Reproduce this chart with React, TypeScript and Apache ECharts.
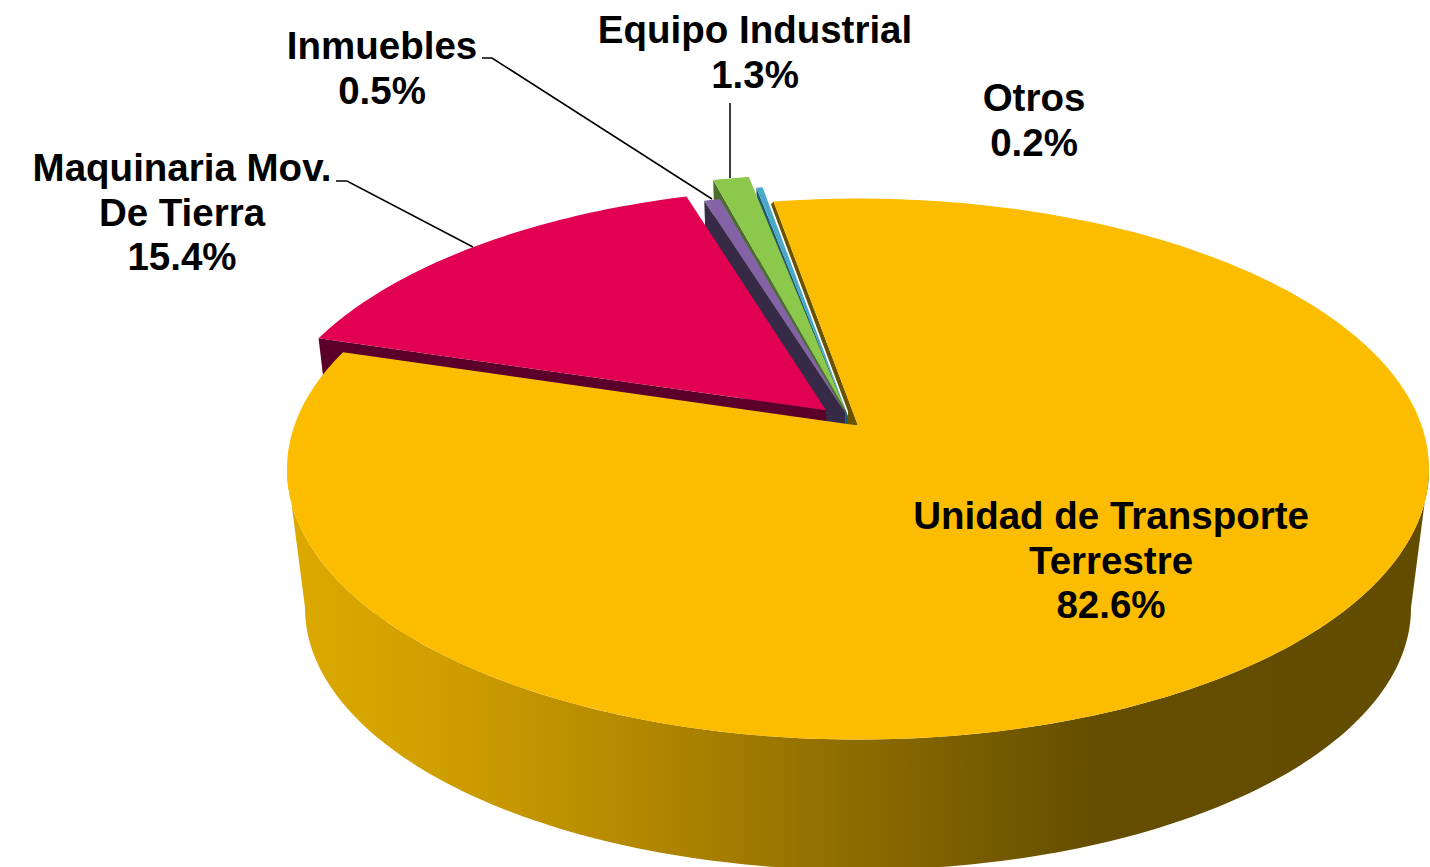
import React, { useEffect, useRef } from "react";
import * as echarts from "echarts";

const names = ["Unidad de Transporte\nTerrestre", "Maquinaria Mov.\nDe Tierra", "Inmuebles", "Equipo Industrial", "Otros"];
const values = [82.6, 15.4, 0.5, 1.3, 0.2];

const topColors = ["#FCBD00", "#E20052", "#8363A5", "#8CC84B", "#4BA9C8"];
const wallColors = ["#695300", "#5A002A", "#362A47", "#4D6E2A", "#1F5A70"];
const apexOffsets = [[0, 0], [-0.0573, -0.059], [-0.0233, -0.0515], [-0.0224, -0.059], [-0.01785, -0.0364]];
const radii = [1, 0.997, 0.982, 1.074, 1.038];
const angleNudge = [[0, -0.4], [-0.4, -0.1], [-0.15, 0], [0.3, -0.34], [0, 0]];
const labelAnchors = [
  [1111, 560],
  [182, 212],
  [382, 68],
  [755, 52],
  [1034, 120],
];
const leaderLines = [
  [[336, 181], [347, 181], [473, 247]],
  [[482, 58], [492, 58], [712, 199]],
  [[730, 103], [730, 178]],
];

const START_ANGLE = -10;
const K = 0.1607;
const TOP = { ax: 858, ay: 425.6, A: 563.6, B: 263.5 };
const BOTTOM = { ax: 858, ay: 565.9, A: 545.8, B: 255.2 };
const RAD = Math.PI / 180;

type Plane = typeof TOP;
function project(p: Plane, u: number, v: number): number[] {
  const w = 1 - K * v;
  return [p.ax + (p.A * u) / w, p.ay + (p.B * v) / w];
}

const total = values.reduce((s, v) => s + v, 0);
const slices = values.map((v, i) => {
  const before = values.slice(0, i).reduce((s, x) => s + x, 0);
  const a0 = START_ANGLE + (before / total) * 360;
  const a1 = a0 + (v / total) * 360;
  return {
    a0: a0 + angleNudge[i][0],
    a1: a1 + angleNudge[i][1],
    ou: apexOffsets[i][0],
    ov: apexOffsets[i][1],
    r: radii[i],
  };
});

function rim(p: Plane, i: number, deg: number) {
  const s = slices[i];
  return project(p, s.ou + s.r * Math.sin(deg * RAD), s.ov - s.r * Math.cos(deg * RAD));
}
function apex(p: Plane, i: number) {
  return project(p, slices[i].ou, slices[i].ov);
}
function arc(p: Plane, i: number, from: number, to: number) {
  const n = Math.max(2, Math.ceil(Math.abs(to - from)));
  const out: number[][] = [];
  for (let j = 0; j <= n; j++) out.push(rim(p, i, from + ((to - from) * j) / n));
  return out;
}

const wallGradient = {
  type: "linear",
  global: true,
  x: 290,
  y: 0,
  x2: 1430,
  y2: 0,
  colorStops: [
    { offset: 0, color: "#DCA900" },
    { offset: 0.1, color: "#D4A200" },
    { offset: 0.3, color: "#B48900" },
    { offset: 0.5, color: "#8C6C00" },
    { offset: 0.7, color: "#654E00" },
    { offset: 1, color: "#624C00" },
  ],
};

const LEFT_SIL = 260.8;
const RIGHT_SIL = 99.2;

function renderSlice(params: any) {
  const i = values.length - 1 - params.dataIndex;
  const s = slices[i];
  const children: any[] = [];
  if (i === 0) {
    const bottom = arc(BOTTOM, 0, RIGHT_SIL, LEFT_SIL).reverse();
    children.push({
      type: "polygon",
      shape: { points: [...arc(TOP, 0, RIGHT_SIL, LEFT_SIL), ...bottom] },
      style: { fill: wallGradient },
    });
  } else {
    const t = rim(TOP, i, s.a0);
    const c = apex(TOP, i);
    children.push({
      type: "polygon",
      shape: { points: [t, c, apex(BOTTOM, i), rim(BOTTOM, i, s.a0)] },
      style: { fill: wallColors[i] },
    });
  }
  children.push({
    type: "polygon",
    shape: { points: [apex(TOP, i), ...arc(TOP, i, s.a0, s.a1)] },
    style: { fill: topColors[i] },
  });
  return { type: "group", children };
}

function renderInnerFace() {
  const tip = rim(TOP, 0, slices[0].a0);
  const c = apex(TOP, 0);
  return {
    type: "polygon",
    shape: {
      points: [tip, [tip[0] - 2.5, tip[1] + 3], [c[0] - 10, c[1] - 14], [c[0] - 10, c[1]], c],
    },
    style: { fill: wallColors[0] },
  };
}

const labelFont = { fontFamily: "Liberation Sans", fontWeight: "bold", fontSize: 38.5, lineHeight: 44.5, fill: "#000" };

export default function App() {
  const ref = useRef<HTMLDivElement>(null);
  useEffect(() => {
    const chart = echarts.init(ref.current!, null, { renderer: "svg" });
    chart.setOption({
      animation: false,
      backgroundColor: "#fff",
      series: [
        {
          type: "custom",
          coordinateSystem: "none",
          silent: true,
          z: 1,
          renderItem: renderInnerFace,
          data: [[values[0]]],
        },
        {
          type: "custom",
          coordinateSystem: "none",
          silent: true,
          z: 2,
          renderItem: renderSlice,
          data: [...values].reverse().map((v) => [v]),
        },
      ],
      graphic: {
        elements: [
          ...leaderLines.map((pts) => ({
            type: "polyline",
            z: 50,
            shape: { points: pts },
            style: { stroke: "#000", lineWidth: 1.5, fill: "none" },
          })),
          ...names.map((n, i) => ({
            type: "text",
            z: 100,
            x: labelAnchors[i][0],
            y: labelAnchors[i][1],
            style: {
              ...labelFont,
              text: `${n}\n${values[i].toFixed(1)}%`,
              textAlign: "center",
              textVerticalAlign: "middle",
            },
          })),
        ],
      },
    });
    return () => chart.dispose();
  }, []);
  return <div ref={ref} style={{ position: "fixed", left: 0, top: 0, width: 1430, height: 867 }} />;
}
